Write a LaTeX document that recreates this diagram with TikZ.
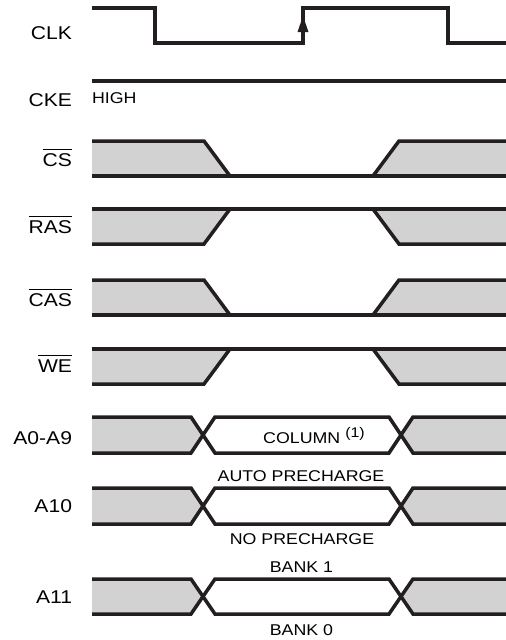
\documentclass[tikz,border=0pt]{standalone}
\usepackage{fontspec}
\newfontfamily\sigfont[FakeStretch=1.14]{Liberation Sans}
\newcommand*{\labelfont}{\sigfont\fontsize{18.5}{20}\selectfont}
\newcommand*{\notefont}{\sigfont\fontsize{15.6}{17}\selectfont}
\newcommand*{\activelow}[1]{\vbox{\hrule height 0.9pt \kern 3.4pt \hbox{#1}}}
\definecolor{X}{cmyk}{0.00,0.00,0.00,0.20}
\definecolor{black}{cmyk}{0.00,0.00,0.00,1.00}
\usetikzlibrary{arrows.meta}
\tikzstyle{base}=[x=1pt, y=-1pt, inner sep=0pt, outer sep=0pt]
\tikzstyle{wave}=[black, line width=3.5pt, line join=miter]
\tikzstyle{sigtext}=[anchor=base east, font=\labelfont]
\tikzstyle{notetext}=[anchor=base, font=\notefont]

\begin{document}
\begin{tikzpicture}[base]
    \path [use as bounding box] (0,0) rectangle (506,640);
    \node [sigtext] (clk) at (72,39) {CLK};
    \node [sigtext] (cke) at (72,106) {CKE};
    \node [sigtext] (cs) at (72,166.5) {\activelow{CS}};
    \node [sigtext] (ras) at (72,233) {\activelow{RAS}};
    \node [sigtext] (cas) at (72,306.5) {\activelow{CAS}};
    \node [sigtext] (we) at (72,372.5) {\activelow{WE}};
    \node [sigtext] (addr) at (72,444) {A0-A9};
    \node [sigtext] (a10) at (72,512.5) {A10};
    \node [sigtext] (a11) at (72,603) {A11};
        \draw [wave] (92,8) -- (155,8) -- (155,43) -- (303,43) -- (303,8) -- (448,8) -- (448,43) -- (506,43);
        \fill [black] (297.5,32) -- (303,16) -- (308.5,32) -- cycle;
        \draw [wave] (92,81) -- (506,81);
        \node [notetext, anchor=base west] (high) at (92,103.5) {HIGH};
        \fill [X] (92,141) -- (204,141) -- (230,176) -- (92,176) -- cycle;
        \fill [X] (506,141) -- (399,141) -- (373,176) -- (506,176) -- cycle;
        \draw [wave] (92,141) -- (204,141) -- (230,176);
        \draw [wave] (373,176) -- (399,141) -- (506,141);
        \draw [wave] (92,176) -- (506,176);
        \fill [X] (92,244) -- (204,244) -- (230,209) -- (92,209) -- cycle;
        \fill [X] (506,244) -- (399,244) -- (373,209) -- (506,209) -- cycle;
        \draw [wave] (92,244) -- (204,244) -- (230,209);
        \draw [wave] (373,209) -- (399,244) -- (506,244);
        \draw [wave] (92,209) -- (506,209);
        \fill [X] (92,280) -- (204,280) -- (230,315) -- (92,315) -- cycle;
        \fill [X] (506,280) -- (399,280) -- (373,315) -- (506,315) -- cycle;
        \draw [wave] (92,280) -- (204,280) -- (230,315);
        \draw [wave] (373,315) -- (399,280) -- (506,280);
        \draw [wave] (92,315) -- (506,315);
        \fill [X] (92,384) -- (204,384) -- (230,349) -- (92,349) -- cycle;
        \fill [X] (506,384) -- (399,384) -- (373,349) -- (506,349) -- cycle;
        \draw [wave] (92,384) -- (204,384) -- (230,349);
        \draw [wave] (373,349) -- (399,384) -- (506,384);
        \draw [wave] (92,349) -- (506,349);
        \fill [X] (92,417) -- (191,417) -- (203,435) -- (191,453) -- (92,453) -- cycle;
        \fill [X] (506,417) -- (413,417) -- (401,435) -- (413,453) -- (506,453) -- cycle;
        \draw [wave] (92,417) -- (191,417) -- (215,453) -- (389,453) -- (413,417) -- (506,417);
        \draw [wave] (92,453) -- (191,453) -- (215,417) -- (389,417) -- (413,453) -- (506,453);
        \node [notetext] (column) at (314,443.5) {COLUMN \raisebox{6pt}{\fontsize{14}{14}\selectfont(1)}};
        \fill [X] (92,488) -- (191,488) -- (203,506) -- (191,524) -- (92,524) -- cycle;
        \fill [X] (506,488) -- (413,488) -- (401,506) -- (413,524) -- (506,524) -- cycle;
        \draw [wave] (92,488) -- (191,488) -- (215,524) -- (389,524) -- (413,488) -- (506,488);
        \draw [wave] (92,524) -- (191,524) -- (215,488) -- (389,488) -- (413,524) -- (506,524);
        \node [notetext] (autopre) at (301,481) {AUTO PRECHARGE};
        \node [notetext] (nopre) at (302,544) {NO PRECHARGE};
        \fill [X] (92,579) -- (191,579) -- (203,596.5) -- (191,614) -- (92,614) -- cycle;
        \fill [X] (506,579) -- (413,579) -- (401,596.5) -- (413,614) -- (506,614) -- cycle;
        \draw [wave] (92,579) -- (191,579) -- (215,614) -- (389,614) -- (413,579) -- (506,579);
        \draw [wave] (92,614) -- (191,614) -- (215,579) -- (389,579) -- (413,614) -- (506,614);
        \node [notetext] (bank1) at (301.5,572) {BANK 1};
        \node [notetext] (bank0) at (301.5,635) {BANK 0};
    \end{tikzpicture}
\end{document}
